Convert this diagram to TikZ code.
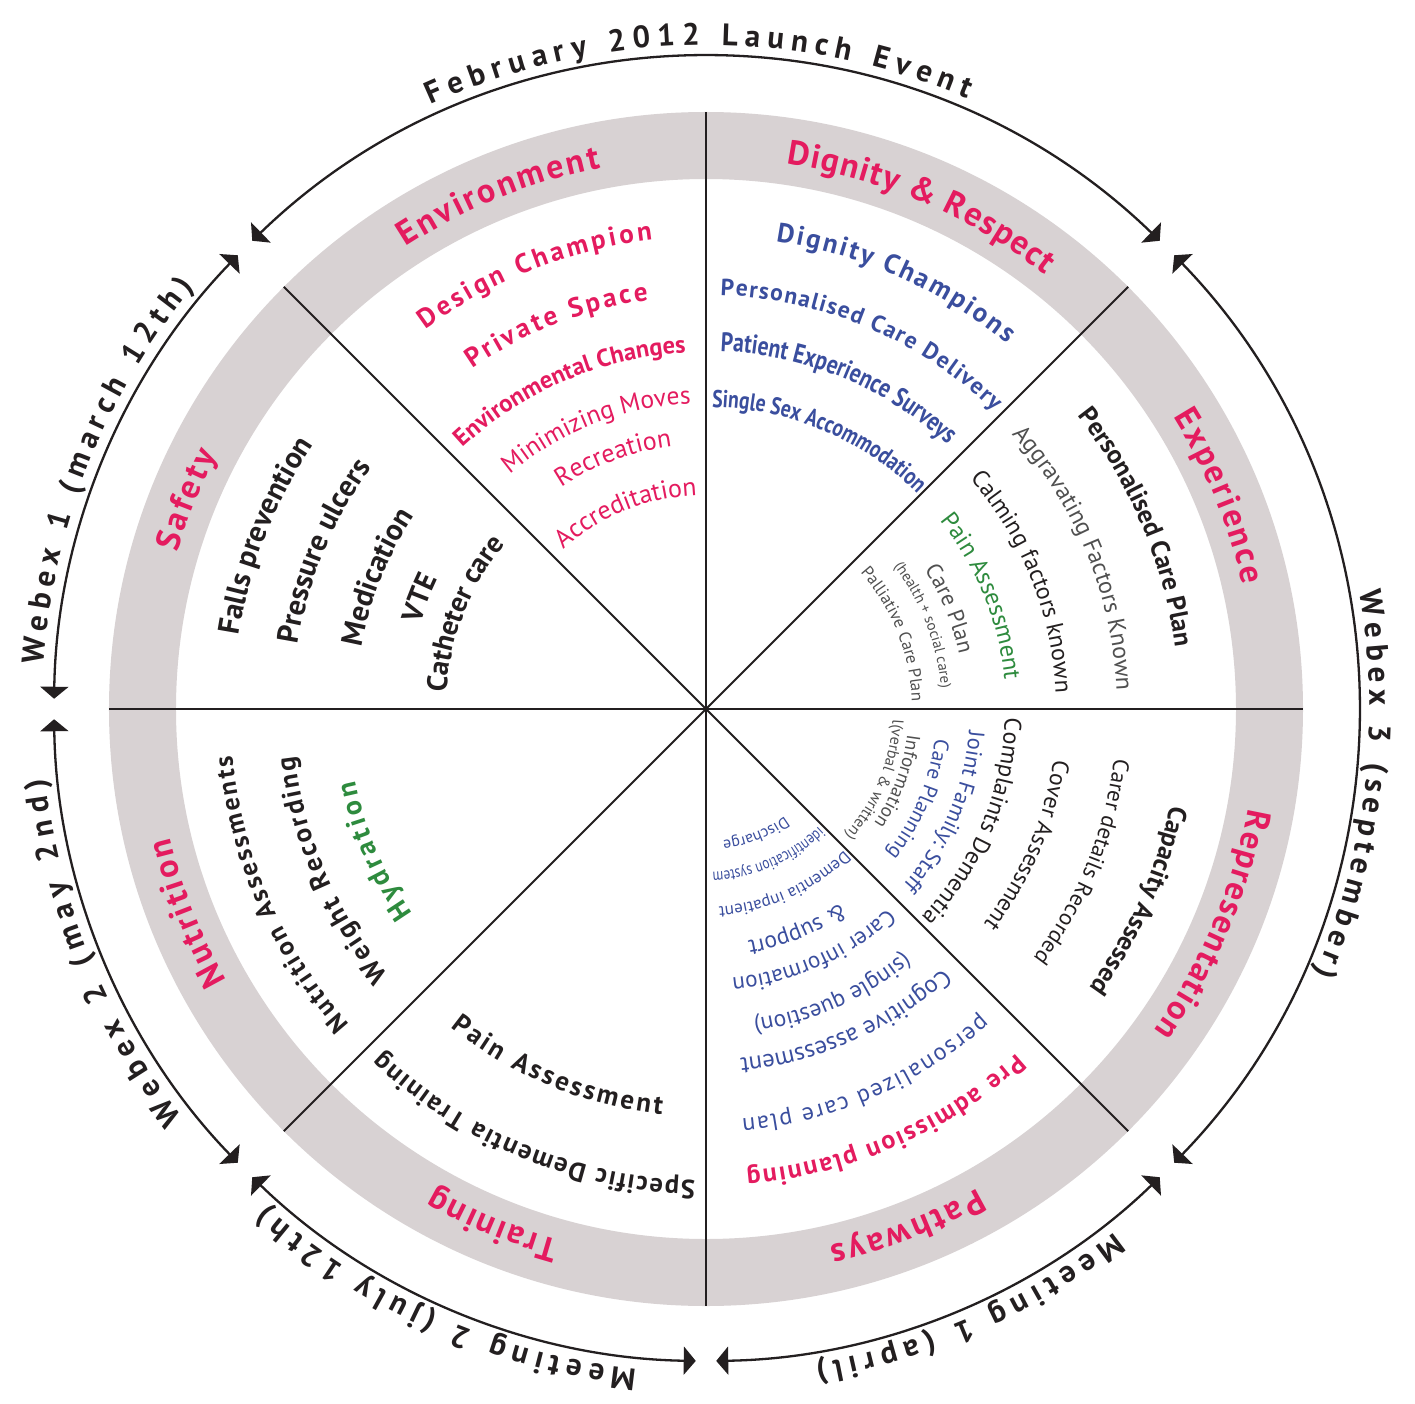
\documentclass[tikz,border=0pt]{standalone}
\usepackage{fontspec}
\setmainfont{PT Sans}
\newfontfamily\cnd[FakeStretch=0.8]{PT Sans}
\usetikzlibrary{decorations.text,arrows.meta}
\definecolor{pinkc}{RGB}{228,27,95}
\definecolor{bluec}{RGB}{58,78,158}
\definecolor{greenc}{RGB}{46,139,62}
\definecolor{greyc}{RGB}{80,80,80}
\definecolor{blackc}{RGB}{35,31,32}
\definecolor{ringc}{RGB}{216,210,211}
\newcommand\fs[1]{\fontsize{#1}{#1}\selectfont}
% text fitted between two angles: radius, start angle, end angle, size, format, text
\newcommand\fittext[6]{%
  \path[decorate,decoration={text along path,text align=fit to path,
    text={|\fs{#4}#5|#6}}] (#2:#1pt) arc[start angle=#2,end angle=#3,radius=#1pt];}
% text centred on an angle (clockwise): radius, centre angle, size, format, text
\newcommand\midtext[5]{%
  \path[decorate,decoration={text along path,text align=center,
    text={|\fs{#3}#4|#5}}] ({#2+70}:#1pt) arc[start angle={#2+70},end angle={#2-70},radius=#1pt];}
\tikzset{
  spoke/.style={draw=blackc,line width=1.9pt},
  outerarc/.style={draw=blackc,line width=2.3pt,
    {Triangle[length=12pt,width=28pt]}-{Triangle[length=12pt,width=28pt]}}
}
\begin{document}
\begin{tikzpicture}[x=1pt,y=1pt]
\useasboundingbox[fill=white] (-706pt,-694pt) rectangle (709pt,709pt);
\coordinate (c) at (0,0);
% grey ring
\fill[ringc,even odd rule] (c) circle[radius=597pt] (c) circle[radius=530pt];
% spokes
\foreach \a in {0,45,...,315}{\draw[spoke] (c) -- (\a:597pt);}
% outer arcs with arrows
\draw[outerarc] (134.1:652pt) arc[start angle=134.1,end angle=45.9,radius=652pt];
\draw[outerarc] (179.1:652pt) arc[start angle=179.1,end angle=135.9,radius=652pt];
\draw[outerarc] (224.1:652pt) arc[start angle=224.1,end angle=180.9,radius=652pt];
\draw[outerarc] (269.1:652pt) arc[start angle=269.1,end angle=225.9,radius=652pt];
\draw[outerarc] (314.1:652pt) arc[start angle=314.1,end angle=270.9,radius=652pt];
\draw[outerarc] (44.1:652pt) arc[start angle=44.1,end angle=-44.1,radius=652pt];
% outer labels
\fittext{664}{114.5}{66.8}{31}{\bfseries\color{blackc}}{February 2012 Launch Event}
\fittext{664}{176.2}{140.5}{31}{\bfseries\color{blackc}}{Webex 1 (march 12th)}
\fittext{664}{218}{186}{31}{\bfseries\color{blackc}}{Webex 2 (may 2nd)}
\fittext{664}{264}{228.5}{31}{\bfseries\color{blackc}}{Meeting 2 (july 12th)}
\fittext{664}{-52}{-80.5}{31}{\bfseries\color{blackc}}{Meeting 1 (april)}
\fittext{664}{10.2}{-23.5}{31}{\bfseries\color{blackc}}{Webex 3 (september)}
% ring labels
\fittext{551}{123}{101}{34}{\bfseries\color{pinkc}}{Environment}
\fittext{551}{81.6}{52}{34}{\bfseries\color{pinkc}}{Dignity {\&} Respect}
\fittext{551}{32}{13}{34}{\bfseries\color{pinkc}}{Experience}
\fittext{551}{-10.4}{-35.7}{34}{\bfseries\color{pinkc}}{Representation}
\fittext{551}{-60.5}{-77}{34}{\bfseries\color{pinkc}}{Pathways}
\fittext{551}{254.6}{240.5}{34}{\bfseries\color{pinkc}}{Training}
\fittext{551}{209.5}{193.5}{34}{\bfseries\color{pinkc}}{Nutrition}
\fittext{551}{163.5}{152.5}{34}{\bfseries\color{pinkc}}{Safety}
% Environment
\fittext{472}{126.5}{96.5}{27}{\bfseries\color{pinkc}}{Design Champion}
\fittext{413}{124.5}{98}{27}{\bfseries\color{pinkc}}{Private Space}
\midtext{357}{113.1}{24.5}{\bfseries\color{pinkc}}{Environmental Changes}
\midtext{306}{111.35}{25.5}{\color{pinkc}}{Minimizing Moves}
\midtext{265}{110.25}{26}{\color{pinkc}}{Recreation}
\midtext{214}{112.1}{26}{\color{pinkc}}{Accreditation}
% Dignity
\fittext{473}{81.5}{50.5}{27}{\bfseries\color{bluec}}{Dignity Champions}
\fittext{414}{88}{46}{23.5}{\bfseries\color{bluec}}{Personalised Care Delivery}
\midtext{358}{67.65}{27}{\cnd\bfseries\color{bluec}}{Patient Experience Surveys}
\midtext{302}{67.2}{24.5}{\cnd\bfseries\color{bluec}}{Single Sex Accommodation}
% Experience
\midtext{473}{22.9}{26}{\bfseries\color{blackc}}{Personalised Care Plan}
\midtext{411}{22.25}{24}{\color{greyc}}{Aggravating Factors Known}
\midtext{350}{21.85}{24}{\color{blackc}}{Calming factors known}
\midtext{300}{22.2}{24.5}{\color{greenc}}{Pain Assessment}
\midtext{259}{22.4}{22.5}{\color{greyc}}{Care Plan}
\midtext{236}{21.15}{15}{\color{greyc}}{(health + social  care)}
\midtext{206}{21.8}{17}{\color{greyc}}{Palliative Care Plan}
% Representation
\midtext{474}{-23.85}{26}{\bfseries\color{blackc}}{Capacity Assessed}
\midtext{411}{-22.1}{22.5}{\color{blackc}}{Carer details Recorded}
\midtext{351}{-22.95}{23.5}{\color{blackc}}{Cover Assessment}
\midtext{299}{-22.85}{24}{\color{blackc}}{Complaints Dementia}
\midtext{264}{-23.25}{22.5}{\color{bluec}}{Joint Family: Staff}
\midtext{231}{-23}{21}{\color{bluec}}{Care Planning}
\midtext{203}{-20.7}{19}{\color{greyc}}{Information}
\midtext{187}{-22.65}{16}{\color{greyc}}{l(verbal {\&} written)}
% Pathways
\fittext{464}{-48}{-85}{26}{\bfseries\color{pinkc}}{Pre admission planning}
\fittext{411}{-48}{-85}{24}{\color{bluec}}{personalized care plan}
\midtext{351}{-66}{24.5}{\color{bluec}}{Cognitive assessment}
\midtext{314}{-66.1}{23.5}{\color{bluec}}{(single question)}
\midtext{270}{-66.1}{23}{\color{bluec}}{Carer information}
\midtext{236}{-67.5}{23.5}{\color{bluec}}{{\&} support}
\midtext{198}{-66}{17}{\color{bluec}}{Dementia inpatient}
\midtext{163}{-67}{16.5}{\cnd\color{bluec}}{identification system}
\midtext{133}{-68.25}{16}{\color{bluec}}{Discharge}
% Training
\fittext{408}{231.3}{263.8}{27}{\bfseries\color{blackc}}{Pain Assessment}
\fittext{472}{268.7}{226.7}{26.5}{\bfseries\color{blackc}}{Specific Dementia Training}
% Nutrition
\fittext{476}{221.5}{185.6}{26}{\bfseries\color{blackc}}{Nutrition Assessments}
\fittext{414}{220}{186.5}{27}{\bfseries\color{blackc}}{Weight Recording}
\fittext{358}{214.9}{191.5}{28}{\bfseries\color{greenc}}{Hydration}
% Safety
\midtext{473}{158.55}{30}{\bfseries\color{blackc}}{Falls prevention}
\midtext{413}{157.6}{30}{\bfseries\color{blackc}}{Pressure ulcers}
\midtext{350}{158.15}{30}{\bfseries\color{blackc}}{Medication}
\midtext{298}{158.8}{29}{\bfseries\color{blackc}}{VTE}
\midtext{260}{158.45}{28.5}{\bfseries\color{blackc}}{Catheter care}
\end{tikzpicture}
\end{document}
